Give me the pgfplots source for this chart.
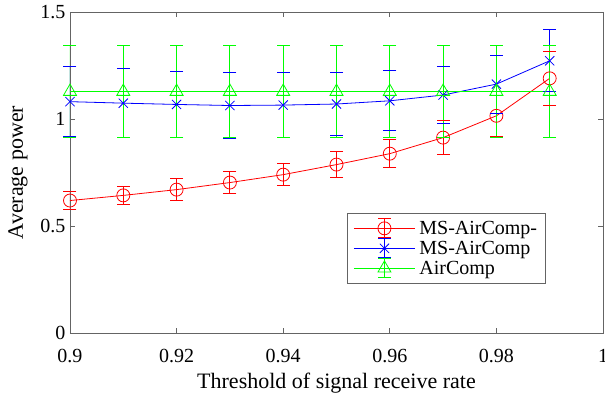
\documentclass[border=0pt]{standalone}
\usepackage{fontspec}
\setmainfont{Liberation Serif}
\usepackage{pgfplots}
\pgfplotsset{compat=1.18}
\definecolor{mred}{RGB}{255,0,0}
\definecolor{mblue}{RGB}{0,0,255}
\definecolor{mgreen}{RGB}{0,255,0}
\definecolor{axline}{RGB}{100,100,100}
\newcommand{\fs}{\fontsize{20}{24}\selectfont}
\newcommand{\fl}{\fontsize{22}{26}\selectfont}
\pgfplotsset{
  ebimg/.style={legend image code/.code={
    \draw[color=#1, line width=1pt, mark=-, mark size=6.5pt, mark options={solid, line width=1pt}] plot coordinates {(30.5pt,-9.5pt) (30.5pt,9.5pt)};
    \draw[##1, mark repeat=2,mark phase=2] plot coordinates {(0pt,0pt) (30.5pt,0pt) (61pt,0pt)};
  }},
  ebar/.style={color=#1, line width=1pt, mark=-, mark size=6.5pt, mark options={line width=1pt}, unbounded coords=jump, forget plot},
}
\begin{document}
\begin{tikzpicture}
\begin{axis}[
  at={(0,0)}, anchor=south west,
  scale only axis, width=533pt, height=321pt,
  xmin=0.9, xmax=1, ymin=0, ymax=1.5,
  xtick={0.9,0.92,0.94,0.96,0.98,1},
  xticklabels={0.9,0.92,0.94,0.96,0.98,1},
  ytick={0,0.5,1,1.5}, yticklabels={0,0.5,1,1.5},
  tick align=inside, tick pos=both,
  major tick length=5pt,
  axis line style={draw=axline, line width=0.8pt},
  every tick/.style={draw=axline, line width=0.8pt},
  ticklabel style={font=\fs},
  xticklabel style={yshift=-13pt},
  yticklabel style={xshift=-1pt},
  xlabel={Threshold of signal receive rate},
  ylabel={Average power},
  xlabel style={at={(axis description cs:0.5,-0.174)}, anchor=base, font=\fl},
  ylabel style={at={(axis description cs:-0.0977,0.5)}, anchor=center, font=\fl},
  legend cell align=left,
  legend style={at={(axis description cs:0.52,0.374)}, anchor=north west,
    draw=axline, line width=0.8pt, fill=white, font=\fs,
    row sep=0pt, column sep=2pt, inner xsep=6pt, inner ysep=5pt,
    nodes={inner sep=2pt}},
]
% MS-AirComp- : error bars (lower, upper)
\addplot[ebar=mred] coordinates {
 (0.90,0.579) (0.90,0.659) (0.90,nan)
 (0.91,0.601) (0.91,0.685) (0.91,nan)
 (0.92,0.620) (0.92,0.720) (0.92,nan)
 (0.93,0.653) (0.93,0.753) (0.93,nan)
 (0.94,0.687) (0.94,0.793) (0.94,nan)
 (0.95,0.727) (0.95,0.847) (0.95,nan)
 (0.96,0.773) (0.96,0.903) (0.96,nan)
 (0.97,0.835) (0.97,0.991) (0.97,nan)
 (0.98,0.919) (0.98,1.111) (0.98,nan)
 (0.99,1.064) (0.99,1.316)
};
\addplot[color=mred, line width=0.8pt, mark=o, mark size=6.5pt, mark options={line width=0.8pt}, ebimg=mred] coordinates {
 (0.90,0.619) (0.91,0.643) (0.92,0.670) (0.93,0.703) (0.94,0.740)
 (0.95,0.787) (0.96,0.838) (0.97,0.913) (0.98,1.015) (0.99,1.190)
};
\addlegendentry{MS-AirComp-}
% MS-AirComp : error bars
\addplot[ebar=mblue] coordinates {
 (0.90,0.916) (0.90,1.246) (0.90,nan)
 (0.91,0.914) (0.91,1.234) (0.91,nan)
 (0.92,0.913) (0.92,1.223) (0.92,nan)
 (0.93,0.909) (0.93,1.217) (0.93,nan)
 (0.94,0.915) (0.94,1.215) (0.94,nan)
 (0.95,0.924) (0.95,1.216) (0.95,nan)
 (0.96,0.945) (0.96,1.225) (0.96,nan)
 (0.97,0.977) (0.97,1.247) (0.97,nan)
 (0.98,1.028) (0.98,1.298) (0.98,nan)
 (0.99,1.128) (0.99,1.416)
};
\addplot[color=mblue, line width=0.8pt, mark=x, mark size=6.5pt, mark options={line width=0.8pt}, ebimg=mblue] coordinates {
 (0.90,1.081) (0.91,1.074) (0.92,1.068) (0.93,1.063) (0.94,1.065)
 (0.95,1.070) (0.96,1.085) (0.97,1.112) (0.98,1.163) (0.99,1.272)
};
\addlegendentry{MS-AirComp}
% AirComp : error bars
\addplot[ebar=mgreen] coordinates {
 (0.90,0.913) (0.90,1.343) (0.90,nan)
 (0.91,0.913) (0.91,1.343) (0.91,nan)
 (0.92,0.913) (0.92,1.343) (0.92,nan)
 (0.93,0.913) (0.93,1.343) (0.93,nan)
 (0.94,0.913) (0.94,1.343) (0.94,nan)
 (0.95,0.913) (0.95,1.343) (0.95,nan)
 (0.96,0.913) (0.96,1.343) (0.96,nan)
 (0.97,0.913) (0.97,1.343) (0.97,nan)
 (0.98,0.913) (0.98,1.343) (0.98,nan)
 (0.99,0.913) (0.99,1.343)
};
\addplot[color=mgreen, line width=0.8pt, mark=triangle, mark size=7.5pt, mark options={line width=0.8pt}, ebimg=mgreen] coordinates {
 (0.90,1.128) (0.91,1.128) (0.92,1.128) (0.93,1.128) (0.94,1.128)
 (0.95,1.128) (0.96,1.128) (0.97,1.128) (0.98,1.128) (0.99,1.128)
};
\addlegendentry{AirComp}
\end{axis}
\pgfresetboundingbox
\useasboundingbox (-70pt,-68pt) rectangle (535pt,333pt);
\end{tikzpicture}
\end{document}
